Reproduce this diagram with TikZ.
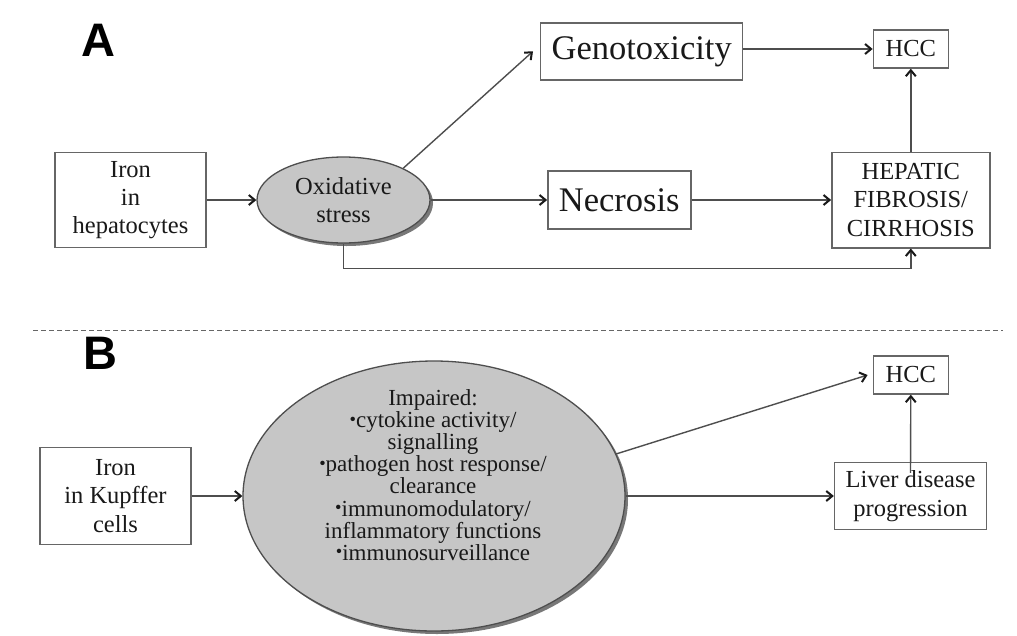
\documentclass[tikz,border=0pt]{standalone}
\usepackage{fontspec}
\setmainfont{Liberation Serif}
\newfontfamily\panelfont{Liberation Sans}
\usetikzlibrary{arrows.meta,shapes.geometric,shadows}
\definecolor{linegray}{HTML}{4E4E4E}
\definecolor{boxgray}{HTML}{666666}
\definecolor{ellfill}{HTML}{C6C6C6}
\newcommand{\bul}{\raisebox{0.22ex}{\scalebox{0.8}{\textbullet}}}
\tikzset{
  x=1pt, y=-1pt,
  txt/.style={font=\fontsize{24.5}{28.3}\selectfont, align=center, text=black!90},
  bigtxt/.style={font=\fontsize{34.5}{40}\selectfont, align=center, text=black!90},
  boxnode/.style={draw=boxgray, line width=1.4pt, fill=white, inner sep=0pt},
  ellnode/.style={ellipse, draw=linegray, line width=1.3pt, fill=ellfill, inner sep=0pt,
     drop shadow={shadow xshift=3pt, shadow yshift=-3pt, fill=black!70, opacity=0.75}},
  conn/.style={draw=linegray, line width=1.4pt, -{Straight Barb[length=6pt,width=10pt,line width=2pt,color=black!90]}},
  panel/.style={font=\panelfont\bfseries\fontsize{47}{47}\selectfont, inner sep=0pt}
}
\begin{document}
\begin{tikzpicture}
\useasboundingbox[fill=white] (0,0) rectangle (1017,635);
% Panel A
\node[panel] (labA) at (98,40) {A};
\node[boxnode, txt, minimum width=151pt, minimum height=95pt] (iron1) at (130.5,200) {Iron\\in\\hepatocytes};
\node[ellnode, txt, minimum width=173pt, minimum height=86pt] (ox) at (343.5,200) {Oxidative\\stress};
\node[boxnode, bigtxt, minimum width=202pt, minimum height=57pt] (geno) at (641.7,51.3) {Genotoxicity};
\node[boxnode, txt, minimum width=75pt, minimum height=38pt] (hcc1) at (910.8,49) {HCC};
\node[boxnode, bigtxt, minimum width=143pt, minimum height=58pt] (necro) at (619.3,200) {Necrosis};
\node[boxnode, txt, minimum width=158pt, minimum height=95.6pt] (hep) at (910.8,200) {HEPATIC\\FIBROSIS/\\CIRRHOSIS};
\draw[conn] (iron1.east) -- (ox.west);
\draw[conn] (ox.28) -- ([xshift=-7pt]geno.west);
\draw[conn] (ox.east) -- (necro.west);
\draw[conn] (necro.east) -- (hep.west);
\draw[conn] (geno.east |- hcc1.west) -- (hcc1.west);
\draw[conn] (hep.north) -- (hcc1.south);
\draw[conn] (ox.south) -- ++(0,25) -| (hep.south);
% separator
\draw[draw=boxgray, line width=1.2pt, dash pattern=on 5pt off 3pt] (33,330.7) -- (1003,330.7);
% Panel B
\node[panel] (labB) at (100,353) {B};
\node[boxnode, txt, minimum width=151pt, minimum height=96.7pt] (iron2) at (115.5,496) {Iron\\in Kupffer\\cells};
\node[ellnode, minimum width=382pt, minimum height=270pt] (imp) at (434,496) {};
\node[font=\fontsize{23}{22.1}\selectfont, align=center, inner sep=0pt, text=black!90] (imptext) at (433,475) {Impaired:\\\bul cytokine activity/\\signalling\\\bul pathogen host response/\\clearance\\\bul immunomodulatory/\\inflammatory functions\\\bul immunosurveillance};
\node[boxnode, txt, minimum width=75pt, minimum height=38pt] (hcc2) at (910.8,375) {HCC};
\node[boxnode, txt, minimum width=152pt, minimum height=66.7pt] (liver) at (910.5,496) {Liver disease\\progression};
\draw[conn] (iron2.east) -- (imp.west);
\draw[conn] (imp.east) -- (liver.west);
\draw[conn] (imp.13.6) -- ([xshift=-5pt]hcc2.west);
\draw[conn] ([yshift=-11pt]liver.north) -- (hcc2.south);
\end{tikzpicture}
\end{document}
